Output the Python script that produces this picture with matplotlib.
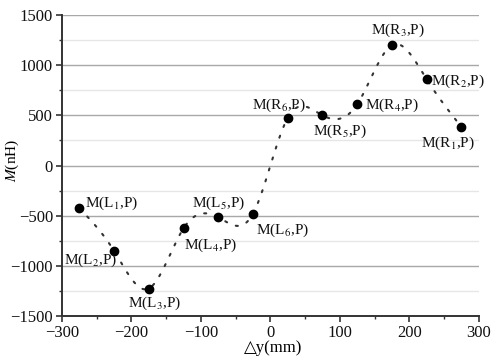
import numpy as np
import matplotlib
matplotlib.use("Agg")
import matplotlib.pyplot as plt
from matplotlib.ticker import MultipleLocator

# ---- data ----
dy_mm = [-275, -225, -175, -125, -75, -25, 25, 75, 125, 175, 225, 275]
M_nH = [-425, -850, -1225, -625, -515, -480, 475, 500, 610, 1200, 860, 385]
point_labels = ["M(L$_1$,P)", "M(L$_2$,P)", "M(L$_3$,P)", "M(L$_4$,P)",
                "M(L$_5$,P)", "M(L$_6$,P)", "M(R$_6$,P)", "M(R$_5$,P)",
                "M(R$_4$,P)", "M(R$_3$,P)", "M(R$_2$,P)", "M(R$_1$,P)"]
x_ticks = [-300, -200, -100, 0, 100, 200, 300]
y_ticks = [-1500, -1000, -500, 0, 500, 1000, 1500]

# label placement (offset pixels, alignment)
label_place = [(6, 5, 'left'), (3, -9, 'right'), (6, -15, 'center'),
               (0, -17, 'left'), (-26, 14, 'left'), (3, -17, 'left'),
               (18, 13, 'right'), (-9, -16, 'left'), (8, -1, 'left'),
               (6, 15, 'center'), (4, -2, 'left'), (-13, -16, 'center')]


def natural_spline(x, y, n=600):
    x = np.asarray(x, float)
    y = np.asarray(y, float)
    k = len(x)
    h = np.diff(x)
    A = np.zeros((k, k))
    b = np.zeros(k)
    A[0, 0] = 1
    A[-1, -1] = 1
    for i in range(1, k - 1):
        A[i, i - 1] = h[i - 1]
        A[i, i] = 2 * (h[i - 1] + h[i])
        A[i, i + 1] = h[i]
        b[i] = 3 * ((y[i + 1] - y[i]) / h[i] - (y[i] - y[i - 1]) / h[i - 1])
    c = np.linalg.solve(A, b)
    xs = np.linspace(x[0], x[-1], n)
    ys = np.empty_like(xs)
    for j, xv in enumerate(xs):
        i = min(np.searchsorted(x, xv, side='right') - 1, k - 2)
        bi = (y[i + 1] - y[i]) / h[i] - h[i] * (2 * c[i] + c[i + 1]) / 3
        di = (c[i + 1] - c[i]) / (3 * h[i])
        t = xv - x[i]
        ys[j] = y[i] + bi * t + c[i] * t ** 2 + di * t ** 3
    return xs, ys


plt.rcParams['font.family'] = ['Liberation Serif', 'DejaVu Sans']
plt.rcParams['mathtext.fontset'] = 'stix'

fig = plt.figure(figsize=(4.92, 3.56), dpi=100)
ax = fig.add_axes([0.126, 0.112, 0.847, 0.846])

xs, ys = natural_spline(dy_mm, M_nH)
ax.plot(xs, ys, color='#333333', linestyle=(0, (1, 4.5)), linewidth=1.5,
        dash_capstyle='round', zorder=3)
ax.plot(dy_mm, M_nH, 'o', color='black', markersize=6, zorder=4)

for x, y, lab, (ox, oy, ha) in zip(dy_mm, M_nH, point_labels, label_place):
    ax.annotate(lab, (x, y), xytext=(ox, oy), textcoords='offset pixels',
                ha=ha, va='center', fontsize=11, color='#111111', zorder=5)

ax.set_xlim(-300, 300)
ax.set_ylim(-1500, 1500)
ax.set_xticks(x_ticks)
ax.set_yticks(y_ticks)
ax.xaxis.set_minor_locator(MultipleLocator(50))
ax.yaxis.set_minor_locator(MultipleLocator(250))

ax.grid(True, which='major', axis='y', color='#a8a8a8', linewidth=1.0)
ax.grid(True, which='minor', axis='y', color='#e6e6e6', linewidth=1.0)
ax.set_axisbelow(True)

for s in ['top', 'right']:
    ax.spines[s].set_visible(False)
for s in ['left', 'bottom']:
    ax.spines[s].set_linewidth(1.4)
    ax.spines[s].set_color('#333333')

ax.tick_params(which='major', direction='out', length=4, width=1.2,
               labelsize=12, colors='#333333', labelcolor='#111111', pad=2.5)
ax.tick_params(which='minor', direction='out', length=2.5, width=1.0,
               colors='#333333')

ax.set_xlabel('△y(mm)', fontsize=12)
ax.set_ylabel('$\\mathit{M}$(nH)', fontsize=11)
ax.xaxis.set_label_coords(0.507, -0.078)
ax.yaxis.set_label_coords(-0.098, 0.518)

fig.savefig('out.png', dpi=100)
